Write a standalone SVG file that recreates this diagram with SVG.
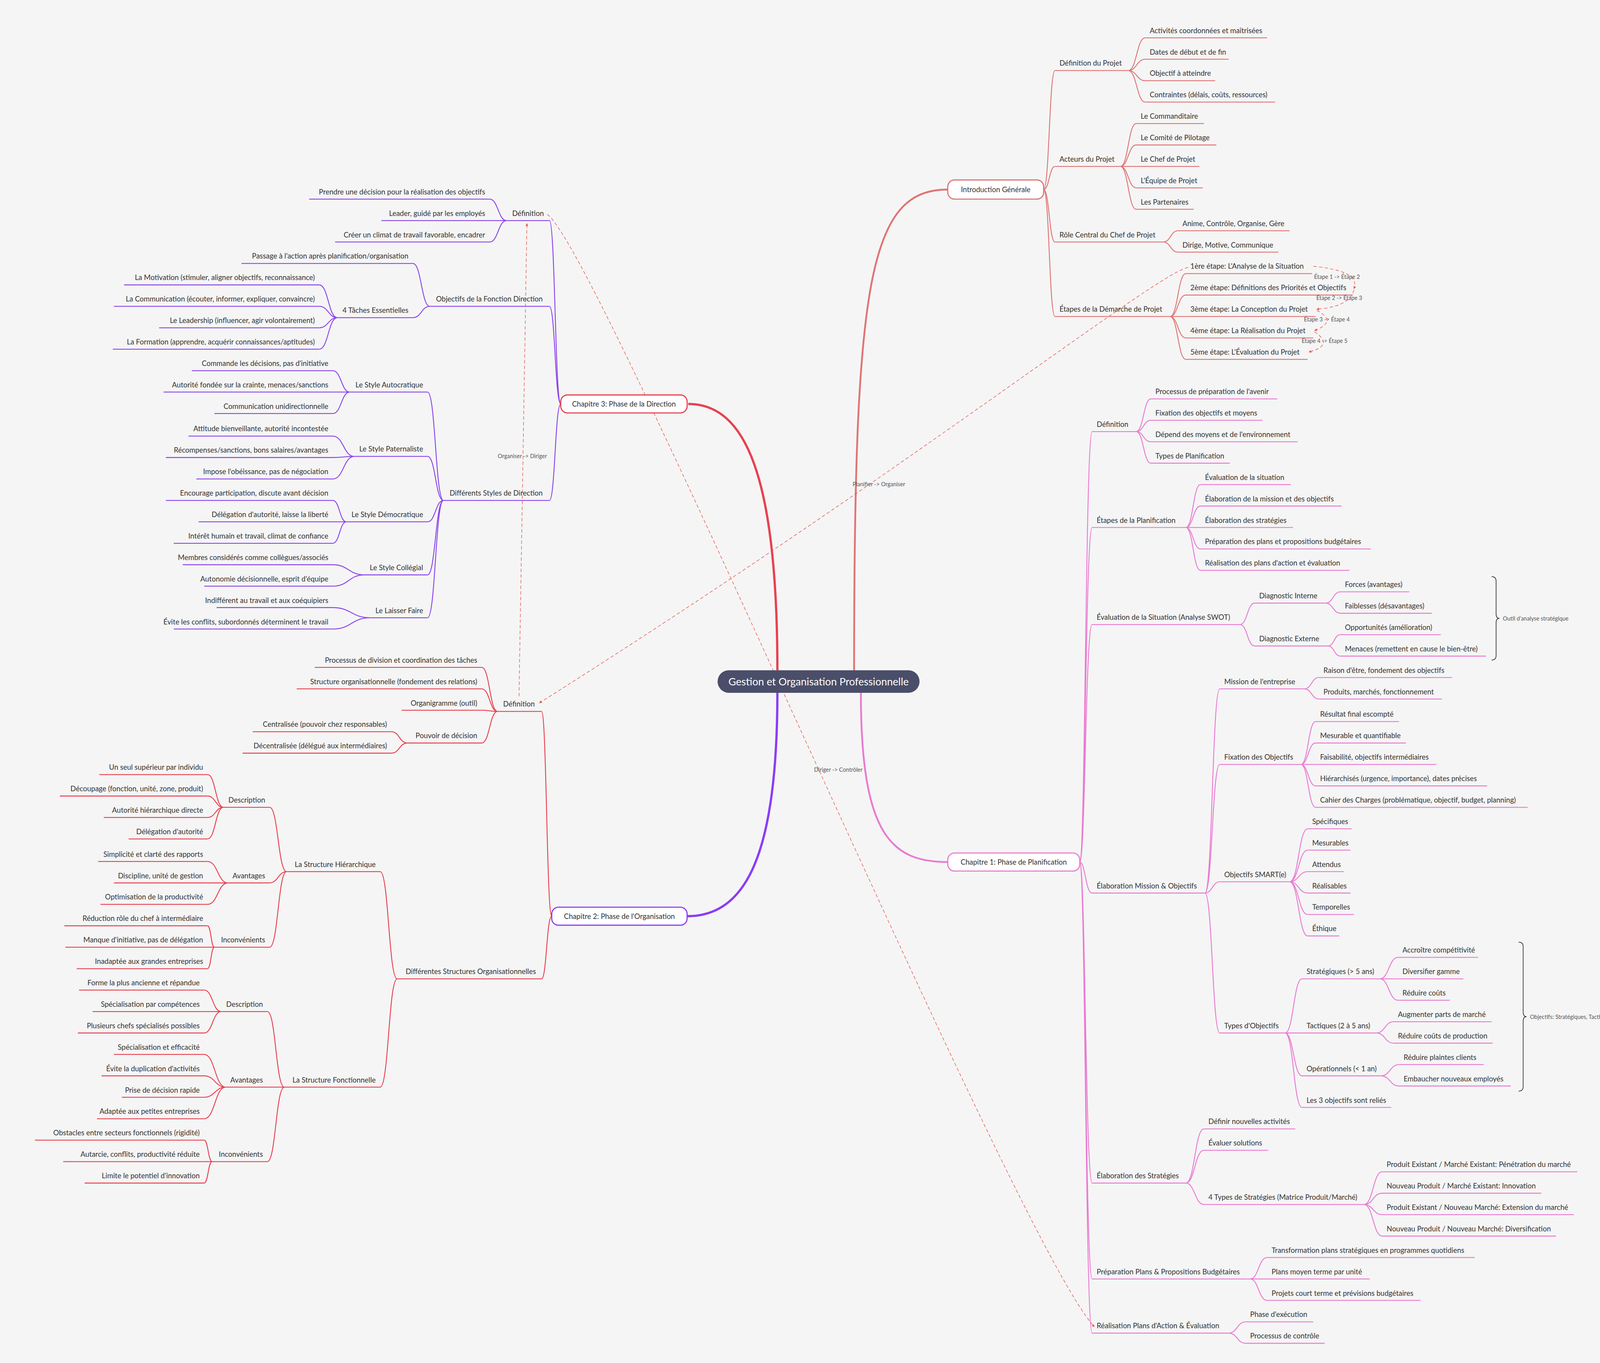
<svg xmlns="http://www.w3.org/2000/svg" width="4529" height="3490" viewBox="0 0 4529 3490">
<defs>
<style>
.t{font-family:Lato,"Noto Sans",sans-serif;font-size:6.4px;fill:#333}
.bx{font-family:Lato,"Noto Sans",sans-serif;font-size:6.4px;fill:#333;text-anchor:middle}
.e{text-anchor:end}
.lb{font-family:Lato,"Noto Sans",sans-serif;font-size:5px;fill:#555;text-anchor:middle}
.i{stroke:#e07474;stroke-width:0.8;fill:none}
.p{stroke:#ea7ad2;stroke-width:0.8;fill:none}
.v{stroke:#8b45ec;stroke-width:0.8;fill:none}
.r{stroke:#e8414f;stroke-width:0.8;fill:none}
.x{stroke:#e8594f;stroke-width:0.5;fill:none;stroke-dasharray:3 2}
.br{stroke:#333;stroke-width:0.6;fill:none}
</style>
<marker id="ah" viewBox="0 0 10 10" refX="9" refY="5" markerWidth="5" markerHeight="5" orient="auto"><path d="M0 0L10 5L0 10z" fill="#e8594f"/></marker>
</defs>
<rect width="4529" height="3490" fill="#f5f5f5"/>
<g transform="scale(2.8884 2.8891)">
<g id="connectors">
<path d="M689 594C689 420 660 358 610 358" stroke="#e8414f" stroke-width="2" fill="none"/>
<path d="M757 594C757 250 770 168 840 168" stroke="#e07474" stroke-width="1.6" fill="none"/>
<path d="M763 614C763 740 790 764 840 764" stroke="#ea7ad2" stroke-width="1.6" fill="none"/>
<path d="M689 614C689 760 660 812 609 812" stroke="#8b3cf7" stroke-width="2" fill="none"/>
<path class="i" d="M925 168C930 168 930 62.5 935 62.5M925 168C930 168 930 147.5 935 147.5M925 168C930 168 930 214.5 935 214.5M925 168C930 168 930 280.5 935 280.5"/>
<path class="i" d="M1000 62.5C1007.5 62.5 1007.5 33.5 1015 33.5M1000 62.5C1007.5 62.5 1007.5 52.5 1015 52.5M1000 62.5C1007.5 62.5 1007.5 71.5 1015 71.5M1000 62.5C1007.5 62.5 1007.5 90.5 1015 90.5"/>
<path class="i" d="M993 147.5C1000 147.5 1000 109.5 1007 109.5M993 147.5C1000 147.5 1000 128.5 1007 128.5M993 147.5C1000 147.5 1000 147.5 1007 147.5M993 147.5C1000 147.5 1000 166.5 1007 166.5M993 147.5C1000 147.5 1000 185.5 1007 185.5"/>
<path class="i" d="M1031 214.5C1037.5 214.5 1037.5 204.5 1044 204.5M1031 214.5C1037.5 214.5 1037.5 223.5 1044 223.5"/>
<path class="i" d="M1037 280.5C1044 280.5 1044 242.5 1051 242.5M1037 280.5C1044 280.5 1044 261.5 1051 261.5M1037 280.5C1044 280.5 1044 280.5 1051 280.5M1037 280.5C1044 280.5 1044 299.5 1051 299.5M1037 280.5C1044 280.5 1044 318.5 1051 318.5"/>
<path class="p" d="M957 764C962 764 962 382.5 968 382.5M957 764C962 764 962 467.5 968 467.5M957 764C962 764 962 553.5 968 553.5M957 764C962 764 962 791.5 968 791.5M957 764C962 764 962 1048.5 968 1048.5M957 764C962 764 962 1133.5 968 1133.5M957 764C962 764 962 1181.5 968 1181.5"/>
<path class="p" d="M1007 382.5C1013.5 382.5 1013.5 353.5 1020 353.5M1007 382.5C1013.5 382.5 1013.5 372.5 1020 372.5M1007 382.5C1013.5 382.5 1013.5 391.5 1020 391.5M1007 382.5C1013.5 382.5 1013.5 410.5 1020 410.5"/>
<path class="p" d="M1051 467.5C1057.5 467.5 1057.5 429.5 1064 429.5M1051 467.5C1057.5 467.5 1057.5 448.5 1064 448.5M1051 467.5C1057.5 467.5 1057.5 467.5 1064 467.5M1051 467.5C1057.5 467.5 1057.5 486.5 1064 486.5M1051 467.5C1057.5 467.5 1057.5 505.5 1064 505.5"/>
<path class="p" d="M1099 553.5C1105.5 553.5 1105.5 534.5 1112 534.5M1099 553.5C1105.5 553.5 1105.5 572.5 1112 572.5M1175 534.5C1181.5 534.5 1181.5 524.5 1188 524.5M1175 534.5C1181.5 534.5 1181.5 543.5 1188 543.5M1177 572.5C1182.5 572.5 1182.5 562.5 1188 562.5M1177 572.5C1182.5 572.5 1182.5 581.5 1188 581.5"/>
<path class="p" d="M1068 791.5C1074.5 791.5 1074.5 610.5 1081 610.5M1068 791.5C1074.5 791.5 1074.5 677.5 1081 677.5M1068 791.5C1074.5 791.5 1074.5 781.5 1081 781.5M1068 791.5C1074.5 791.5 1074.5 915.5 1081 915.5"/>
<path class="p" d="M1156 610.5C1162.5 610.5 1162.5 600.5 1169 600.5M1156 610.5C1162.5 610.5 1162.5 619.5 1169 619.5"/>
<path class="p" d="M1153 677.5C1159.5 677.5 1159.5 639.5 1166 639.5M1153 677.5C1159.5 677.5 1159.5 658.5 1166 658.5M1153 677.5C1159.5 677.5 1159.5 677.5 1166 677.5M1153 677.5C1159.5 677.5 1159.5 696.5 1166 696.5M1153 677.5C1159.5 677.5 1159.5 715.5 1166 715.5"/>
<path class="p" d="M1143 781.5C1151 781.5 1151 734.5 1159 734.5M1143 781.5C1151 781.5 1151 753.5 1159 753.5M1143 781.5C1151 781.5 1151 772.5 1159 772.5M1143 781.5C1151 781.5 1151 791.5 1159 791.5M1143 781.5C1151 781.5 1151 810.5 1159 810.5M1143 781.5C1151 781.5 1151 829.5 1159 829.5"/>
<path class="p" d="M1139 915.5C1146.5 915.5 1146.5 867.5 1154 867.5M1139 915.5C1146.5 915.5 1146.5 915.5 1154 915.5M1139 915.5C1146.5 915.5 1146.5 953.5 1154 953.5M1139 915.5C1146.5 915.5 1146.5 981.5 1154 981.5"/>
<path class="p" d="M1223 867.5C1231 867.5 1231 848.5 1239 848.5M1223 867.5C1231 867.5 1231 867.5 1239 867.5M1223 867.5C1231 867.5 1231 886.5 1239 886.5M1220 915.5C1227.5 915.5 1227.5 905.5 1235 905.5M1220 915.5C1227.5 915.5 1227.5 924.5 1235 924.5M1224 953.5C1232 953.5 1232 943.5 1240 943.5M1224 953.5C1232 953.5 1232 962.5 1240 962.5"/>
<path class="p" d="M1051 1048.5C1059 1048.5 1059 1000.5 1067 1000.5M1051 1048.5C1059 1048.5 1059 1019.5 1067 1019.5M1051 1048.5C1059 1048.5 1059 1067.5 1067 1067.5"/>
<path class="p" d="M1209 1067.5C1217 1067.5 1217 1038.5 1225 1038.5M1209 1067.5C1217 1067.5 1217 1057.5 1225 1057.5M1209 1067.5C1217 1067.5 1217 1076.5 1225 1076.5M1209 1067.5C1217 1067.5 1217 1095.5 1225 1095.5"/>
<path class="p" d="M1108 1133.5C1115.5 1133.5 1115.5 1114.5 1123 1114.5M1108 1133.5C1115.5 1133.5 1115.5 1133.5 1123 1133.5M1108 1133.5C1115.5 1133.5 1115.5 1152.5 1123 1152.5"/>
<path class="p" d="M1089 1181.5C1096.5 1181.5 1096.5 1171.5 1104 1171.5M1089 1181.5C1096.5 1181.5 1096.5 1190.5 1104 1190.5"/>
<path class="v" d="M497 358C492 358 492 195.5 487 195.5M497 358C492 358 492 271.5 487 271.5M497 358C492 358 492 443.5 487 443.5"/>
<path class="v" d="M449 195.5C441.5 195.5 441.5 176.5 434 176.5M449 195.5C441.5 195.5 441.5 195.5 434 195.5M449 195.5C441.5 195.5 441.5 214.5 434 214.5"/>
<path class="v" d="M381 271.5C373.5 271.5 373.5 233.5 366 233.5M381 271.5C373.5 271.5 373.5 281.5 366 281.5"/>
<path class="v" d="M299 281.5C291 281.5 291 252.5 283 252.5M299 281.5C291 281.5 291 271.5 283 271.5M299 281.5C291 281.5 291 290.5 283 290.5M299 281.5C291 281.5 291 309.5 283 309.5"/>
<path class="v" d="M393 443.5C386 443.5 386 347.5 379 347.5M393 443.5C386 443.5 386 404.5 379 404.5M393 443.5C386 443.5 386 462.5 379 462.5M393 443.5C386 443.5 386 509.5 379 509.5M393 443.5C386 443.5 386 547.5 379 547.5"/>
<path class="v" d="M310 347.5C302.5 347.5 302.5 328.5 295 328.5M310 347.5C302.5 347.5 302.5 347.5 295 347.5M310 347.5C302.5 347.5 302.5 366.5 295 366.5"/>
<path class="v" d="M314 404.5C304.5 404.5 304.5 386.5 295 386.5M314 404.5C304.5 404.5 304.5 405.5 295 405.5M314 404.5C304.5 404.5 304.5 424.5 295 424.5"/>
<path class="v" d="M307 462.5C301 462.5 301 443.5 295 443.5M307 462.5C301 462.5 301 462.5 295 462.5M307 462.5C301 462.5 301 481.5 295 481.5"/>
<path class="v" d="M323 509.5C309 509.5 309 500.5 295 500.5M323 509.5C309 509.5 309 519.5 295 519.5"/>
<path class="v" d="M328 547.5C311.5 547.5 311.5 538.5 295 538.5M328 547.5C311.5 547.5 311.5 557.5 295 557.5"/>
<path class="r" d="M489 812C484.5 812 484.5 630.5 480 630.5M489 812C484.5 812 484.5 867.5 480 867.5"/>
<path class="r" d="M441 630.5C434 630.5 434 591.5 427 591.5M441 630.5C434 630.5 434 610.5 427 610.5M441 630.5C434 630.5 434 629.5 427 629.5M441 630.5C434 630.5 434 658.5 427 658.5"/>
<path class="r" d="M361 658.5C354 658.5 354 648.5 347 648.5M361 658.5C354 658.5 354 667.5 347 667.5"/>
<path class="r" d="M352 867.5C344.5 867.5 344.5 772.5 337 772.5M352 867.5C344.5 867.5 344.5 963.5 337 963.5"/>
<path class="r" d="M254 772.5C246.5 772.5 246.5 715.5 239 715.5M254 772.5C246.5 772.5 246.5 782.5 239 782.5M254 772.5C246.5 772.5 246.5 839.5 239 839.5"/>
<path class="r" d="M198 715.5C191 715.5 191 686.5 184 686.5M198 715.5C191 715.5 191 705.5 184 705.5M198 715.5C191 715.5 191 724.5 184 724.5M198 715.5C191 715.5 191 743.5 184 743.5"/>
<path class="r" d="M202 782.5C193 782.5 193 763.5 184 763.5M202 782.5C193 782.5 193 782.5 184 782.5M202 782.5C193 782.5 193 801.5 184 801.5"/>
<path class="r" d="M190 839.5C187 839.5 187 820.5 184 820.5M190 839.5C187 839.5 187 839.5 184 839.5M190 839.5C187 839.5 187 858.5 184 858.5"/>
<path class="r" d="M252 963.5C244.5 963.5 244.5 896.5 237 896.5M252 963.5C244.5 963.5 244.5 963.5 237 963.5M252 963.5C244.5 963.5 244.5 1029.5 237 1029.5"/>
<path class="r" d="M196 896.5C188.5 896.5 188.5 877.5 181 877.5M196 896.5C188.5 896.5 188.5 896.5 181 896.5M196 896.5C188.5 896.5 188.5 915.5 181 915.5"/>
<path class="r" d="M200 963.5C190.5 963.5 190.5 934.5 181 934.5M200 963.5C190.5 963.5 190.5 953.5 181 953.5M200 963.5C190.5 963.5 190.5 972.5 181 972.5M200 963.5C190.5 963.5 190.5 991.5 181 991.5"/>
<path class="r" d="M188 1029.5C184.5 1029.5 184.5 1010.5 181 1010.5M188 1029.5C184.5 1029.5 184.5 1029.5 181 1029.5M188 1029.5C184.5 1029.5 184.5 1048.5 181 1048.5"/>
<path class="x" marker-end="url(#ah)" d="M1164 236Q1206 240 1200 256"/>
<path class="x" marker-end="url(#ah)" d="M1200 257Q1196 272 1167 274"/>
<path class="x" marker-end="url(#ah)" d="M1167 275Q1186 285 1165 293"/>
<path class="x" marker-end="url(#ah)" d="M1165 294Q1183 306 1160 312"/>
<path class="x" marker-end="url(#ah)" d="M1053 237C1025 242 800 420 478 623"/>
<path class="x" marker-end="url(#ah)" d="M460 617L467 198"/>
<path class="x" marker-end="url(#ah)" d="M485 190C530 220 900 1100 970 1176"/>
</g>
<g id="labels">
<text class="lb" x="1185" y="247">Étape 1 -&gt; Étape 2</text>
<text class="lb" x="1187" y="266">Étape 2 -&gt; Étape 3</text>
<text class="lb" x="1176" y="285">Étape 3 -&gt; Étape 4</text>
<text class="lb" x="1174" y="304">Étape 4 -&gt; Étape 5</text>
<text class="lb" x="779" y="431">Planifier -&gt; Organiser</text>
<text class="lb" x="463" y="406">Organiser -&gt; Diriger</text>
<text class="lb" x="743" y="684">Diriger -&gt; Contrôler</text>
</g>
<g id="center"><rect x="636" y="594" width="179" height="20" rx="10" fill="#4a4e69"/><text x="725.5" y="607.3" text-anchor="middle" style="font-family:Lato,'Noto Sans',sans-serif;font-size:9.2px;fill:#fff">Gestion et Organisation Professionnelle</text></g>
<g id="intro"><rect x="840" y="159.5" width="85" height="17" rx="6" fill="#fff" stroke="#e07474" stroke-width="1"/><text class="bx" x="882.5" y="170.3">Introduction Générale</text></g>
<g id="chap3"><rect x="497" y="350" width="112" height="16" rx="6" fill="#fff" stroke="#e8414f" stroke-width="1"/><text class="bx" x="553" y="360.3">Chapitre 3: Phase de la Direction</text></g>
<g id="chap1"><rect x="840" y="756" width="117" height="16" rx="6" fill="#fff" stroke="#ea7ad2" stroke-width="1"/><text class="bx" x="898.5" y="766.3">Chapitre 1: Phase de Planification</text></g>
<g id="chap2"><rect x="489" y="804" width="120" height="16" rx="6" fill="#fff" stroke="#8b3cf7" stroke-width="1"/><text class="bx" x="549" y="814.3">Chapitre 2: Phase de l'Organisation</text></g>

<g id="intro-nodes">
<g id="i1"><text class="t" x="939" y="58.3">Définition du Projet</text><path class="i" d="M935 62.5H1000"/></g>
<g id="i1a"><text class="t" x="1019" y="29.3">Activités coordonnées et maîtrisées</text><path class="i" d="M1015 33.5H1123"/></g>
<g id="i1b"><text class="t" x="1019" y="48.3">Dates de début et de fin</text><path class="i" d="M1015 52.5H1089"/></g>
<g id="i1c"><text class="t" x="1019" y="67.3">Objectif à atteindre</text><path class="i" d="M1015 71.5H1077"/></g>
<g id="i1d"><text class="t" x="1019" y="86.3">Contraintes (délais, coûts, ressources)</text><path class="i" d="M1015 90.5H1130"/></g>
<g id="i2"><text class="t" x="939" y="143.3">Acteurs du Projet</text><path class="i" d="M935 147.5H993"/></g>
<g id="i2a"><text class="t" x="1011" y="105.3">Le Commanditaire</text><path class="i" d="M1007 109.5H1067"/></g>
<g id="i2b"><text class="t" x="1011" y="124.3">Le Comité de Pilotage</text><path class="i" d="M1007 128.5H1078"/></g>
<g id="i2c"><text class="t" x="1011" y="143.3">Le Chef de Projet</text><path class="i" d="M1007 147.5H1063"/></g>
<g id="i2d"><text class="t" x="1011" y="162.3">L'Équipe de Projet</text><path class="i" d="M1007 166.5H1066"/></g>
<g id="i2e"><text class="t" x="1011" y="181.3">Les Partenaires</text><path class="i" d="M1007 185.5H1058"/></g>
<g id="i3"><text class="t" x="939" y="210.3">Rôle Central du Chef de Projet</text><path class="i" d="M935 214.5H1031"/></g>
<g id="i3a"><text class="t" x="1048" y="200.3">Anime, Contrôle, Organise, Gère</text><path class="i" d="M1044 204.5H1143"/></g>
<g id="i3b"><text class="t" x="1048" y="219.3">Dirige, Motive, Communique</text><path class="i" d="M1044 223.5H1133"/></g>
<g id="i4"><text class="t" x="939" y="276.3">Étapes de la Démarche de Projet</text><path class="i" d="M935 280.5H1037"/></g>
<g id="i4a"><text class="t" x="1055" y="238.3">1ère étape: L'Analyse de la Situation</text><path class="i" d="M1051 242.5H1163"/></g>
<g id="i4b"><text class="t" x="1055" y="257.3">2ème étape: Définitions des Priorités et Objectifs</text><path class="i" d="M1051 261.5H1199"/></g>
<g id="i4c"><text class="t" x="1055" y="276.3">3ème étape: La Conception du Projet</text><path class="i" d="M1051 280.5H1166"/></g>
<g id="i4d"><text class="t" x="1055" y="295.3">4ème étape: La Réalisation du Projet</text><path class="i" d="M1051 299.5H1164"/></g>
<g id="i4e"><text class="t" x="1055" y="314.3">5ème étape: L'Évaluation du Projet</text><path class="i" d="M1051 318.5H1159"/></g>
</g>

<g id="chap1-nodes">
<g id="p1"><text class="t" x="972" y="378.3">Définition</text><path class="p" d="M968 382.5H1007"/></g>
<g id="p1a"><text class="t" x="1024" y="349.3">Processus de préparation de l'avenir</text><path class="p" d="M1020 353.5H1132"/></g>
<g id="p1b"><text class="t" x="1024" y="368.3">Fixation des objectifs et moyens</text><path class="p" d="M1020 372.5H1119"/></g>
<g id="p1c"><text class="t" x="1024" y="387.3">Dépend des moyens et de l'environnement</text><path class="p" d="M1020 391.5H1150"/></g>
<g id="p1d"><text class="t" x="1024" y="406.3">Types de Planification</text><path class="p" d="M1020 410.5H1090"/></g>
<g id="p2"><text class="t" x="972" y="463.3">Étapes de la Planification</text><path class="p" d="M968 467.5H1051"/></g>
<g id="p2a"><text class="t" x="1068" y="425.3">Évaluation de la situation</text><path class="p" d="M1064 429.5H1144"/></g>
<g id="p2b"><text class="t" x="1068" y="444.3">Élaboration de la mission et des objectifs</text><path class="p" d="M1064 448.5H1189"/></g>
<g id="p2c"><text class="t" x="1068" y="463.3">Élaboration des stratégies</text><path class="p" d="M1064 467.5H1146"/></g>
<g id="p2d"><text class="t" x="1068" y="482.3">Préparation des plans et propositions budgétaires</text><path class="p" d="M1064 486.5H1215"/></g>
<g id="p2e"><text class="t" x="1068" y="501.3">Réalisation des plans d'action et évaluation</text><path class="p" d="M1064 505.5H1196"/></g>
<g id="p3"><text class="t" x="972" y="549.3">Évaluation de la Situation (Analyse SWOT)</text><path class="p" d="M968 553.5H1099"/></g>
<g id="p3a"><text class="t" x="1116" y="530.3">Diagnostic Interne</text><path class="p" d="M1112 534.5H1175"/></g>
<g id="p3a1"><text class="t" x="1192" y="520.3">Forces (avantages)</text><path class="p" d="M1188 524.5H1249"/></g>
<g id="p3a2"><text class="t" x="1192" y="539.3">Faiblesses (désavantages)</text><path class="p" d="M1188 543.5H1269"/></g>
<g id="p3b"><text class="t" x="1116" y="568.3">Diagnostic Externe</text><path class="p" d="M1112 572.5H1177"/></g>
<g id="p3b1"><text class="t" x="1192" y="558.3">Opportunités (amélioration)</text><path class="p" d="M1188 562.5H1277"/></g>
<g id="p3b2"><text class="t" x="1192" y="577.3">Menaces (remettent en cause le bien-être)</text><path class="p" d="M1188 581.5H1317"/></g>
<g id="swot-note"><path class="br" d="M1322 511Q1326 511 1326 515V544Q1326 548 1329 548Q1326 548 1326 552V581Q1326 585 1322 585"/><text class="lb" x="1332" y="550" style="text-anchor:start">Outil d'analyse stratégique</text></g>
<g id="p4"><text class="t" x="972" y="787.3">Élaboration Mission &amp; Objectifs</text><path class="p" d="M968 791.5H1068"/></g>
<g id="p4a"><text class="t" x="1085" y="606.3">Mission de l'entreprise</text><path class="p" d="M1081 610.5H1156"/></g>
<g id="p4a1"><text class="t" x="1173" y="596.3">Raison d'être, fondement des objectifs</text><path class="p" d="M1169 600.5H1287"/></g>
<g id="p4a2"><text class="t" x="1173" y="615.3">Produits, marchés, fonctionnement</text><path class="p" d="M1169 619.5H1278"/></g>
<g id="p4b"><text class="t" x="1085" y="673.3">Fixation des Objectifs</text><path class="p" d="M1081 677.5H1153"/></g>
<g id="p4b1"><text class="t" x="1170" y="635.3">Résultat final escompté</text><path class="p" d="M1166 639.5H1240"/></g>
<g id="p4b2"><text class="t" x="1170" y="654.3">Mesurable et quantifiable</text><path class="p" d="M1166 658.5H1246"/></g>
<g id="p4b3"><text class="t" x="1170" y="673.3">Faisabilité, objectifs intermédiaires</text><path class="p" d="M1166 677.5H1273"/></g>
<g id="p4b4"><text class="t" x="1170" y="692.3">Hiérarchisés (urgence, importance), dates précises</text><path class="p" d="M1166 696.5H1318"/></g>
<g id="p4b5"><text class="t" x="1170" y="711.3">Cahier des Charges (problématique, objectif, budget, planning)</text><path class="p" d="M1166 715.5H1354"/></g>
<g id="p4c"><text class="t" x="1085" y="777.3">Objectifs SMART(e)</text><path class="p" d="M1081 781.5H1143"/></g>
<g id="p4c1"><text class="t" x="1163" y="730.3">Spécifiques</text><path class="p" d="M1159 734.5H1198"/></g>
<g id="p4c2"><text class="t" x="1163" y="749.3">Mesurables</text><path class="p" d="M1159 753.5H1197"/></g>
<g id="p4c3"><text class="t" x="1163" y="768.3">Attendus</text><path class="p" d="M1159 772.5H1191"/></g>
<g id="p4c4"><text class="t" x="1163" y="787.3">Réalisables</text><path class="p" d="M1159 791.5H1197"/></g>
<g id="p4c5"><text class="t" x="1163" y="806.3">Temporelles</text><path class="p" d="M1159 810.5H1200"/></g>
<g id="p4c6"><text class="t" x="1163" y="825.3">Éthique</text><path class="p" d="M1159 829.5H1187"/></g>
<g id="p4d"><text class="t" x="1085" y="911.3">Types d'Objectifs</text><path class="p" d="M1081 915.5H1139"/></g>
<g id="p4d1"><text class="t" x="1158" y="863.3">Stratégiques (&gt; 5 ans)</text><path class="p" d="M1154 867.5H1223"/></g>
<g id="p4d1a"><text class="t" x="1243" y="844.3">Accroître compétitivité</text><path class="p" d="M1239 848.5H1310"/></g>
<g id="p4d1b"><text class="t" x="1243" y="863.3">Diversifier gamme</text><path class="p" d="M1239 867.5H1297"/></g>
<g id="p4d1c"><text class="t" x="1243" y="882.3">Réduire coûts</text><path class="p" d="M1239 886.5H1285"/></g>
<g id="p4d2"><text class="t" x="1158" y="911.3">Tactiques (2 à 5 ans)</text><path class="p" d="M1154 915.5H1220"/></g>
<g id="p4d2a"><text class="t" x="1239" y="901.3">Augmenter parts de marché</text><path class="p" d="M1235 905.5H1322"/></g>
<g id="p4d2b"><text class="t" x="1239" y="920.3">Réduire coûts de production</text><path class="p" d="M1235 924.5H1323"/></g>
<g id="p4d3"><text class="t" x="1158" y="949.3">Opérationnels (&lt; 1 an)</text><path class="p" d="M1154 953.5H1224"/></g>
<g id="p4d3a"><text class="t" x="1244" y="939.3">Réduire plaintes clients</text><path class="p" d="M1240 943.5H1315"/></g>
<g id="p4d3b"><text class="t" x="1244" y="958.3">Embaucher nouveaux employés</text><path class="p" d="M1240 962.5H1339"/></g>
<g id="p4d4"><text class="t" x="1158" y="977.3">Les 3 objectifs sont reliés</text><path class="p" d="M1154 981.5H1233"/></g>
<g id="obj-note"><path class="br" d="M1346 835Q1350 835 1350 839V897Q1350 901 1353 901Q1350 901 1350 905V963Q1350 967 1346 967"/><text class="lb" x="1356" y="903" style="text-anchor:start">Objectifs: Stratégiques, Tactiques, Opérationnels</text></g>
<g id="p5"><text class="t" x="972" y="1044.3">Élaboration des Stratégies</text><path class="p" d="M968 1048.5H1051"/></g>
<g id="p5a"><text class="t" x="1071" y="996.3">Définir nouvelles activités</text><path class="p" d="M1067 1000.5H1148"/></g>
<g id="p5b"><text class="t" x="1071" y="1015.3">Évaluer solutions</text><path class="p" d="M1067 1019.5H1124"/></g>
<g id="p5c"><text class="t" x="1071" y="1063.3">4 Types de Stratégies (Matrice Produit/Marché)</text><path class="p" d="M1067 1067.5H1209"/></g>
<g id="p5c1"><text class="t" x="1229" y="1034.3">Produit Existant / Marché Existant: Pénétration du marché</text><path class="p" d="M1225 1038.5H1398"/></g>
<g id="p5c2"><text class="t" x="1229" y="1053.3">Nouveau Produit / Marché Existant: Innovation</text><path class="p" d="M1225 1057.5H1366"/></g>
<g id="p5c3"><text class="t" x="1229" y="1072.3">Produit Existant / Nouveau Marché: Extension du marché</text><path class="p" d="M1225 1076.5H1395"/></g>
<g id="p5c4"><text class="t" x="1229" y="1091.3">Nouveau Produit / Nouveau Marché: Diversification</text><path class="p" d="M1225 1095.5H1379"/></g>
<g id="p6"><text class="t" x="972" y="1129.3">Préparation Plans &amp; Propositions Budgétaires</text><path class="p" d="M968 1133.5H1108"/></g>
<g id="p6a"><text class="t" x="1127" y="1110.3">Transformation plans stratégiques en programmes quotidiens</text><path class="p" d="M1123 1114.5H1307"/></g>
<g id="p6b"><text class="t" x="1127" y="1129.3">Plans moyen terme par unité</text><path class="p" d="M1123 1133.5H1214"/></g>
<g id="p6c"><text class="t" x="1127" y="1148.3">Projets court terme et prévisions budgétaires</text><path class="p" d="M1123 1152.5H1259"/></g>
<g id="p7"><text class="t" x="972" y="1177.3">Réalisation Plans d'Action &amp; Évaluation</text><path class="p" d="M968 1181.5H1089"/></g>
<g id="p7a"><text class="t" x="1108" y="1167.3">Phase d'exécution</text><path class="p" d="M1104 1171.5H1164"/></g>
<g id="p7b"><text class="t" x="1108" y="1186.3">Processus de contrôle</text><path class="p" d="M1104 1190.5H1174"/></g>
</g>

<g id="chap3-nodes">
<g id="v1"><text class="t e" x="482" y="191.3">Définition</text><path class="v" d="M449 195.5H487"/></g>
<g id="v1a"><text class="t e" x="430" y="172.3">Prendre une décision pour la réalisation des objectifs</text><path class="v" d="M274 176.5H434"/></g>
<g id="v1b"><text class="t e" x="430" y="191.3">Leader, guidé par les employés</text><path class="v" d="M338 195.5H434"/></g>
<g id="v1c"><text class="t e" x="430" y="210.3">Créer un climat de travail favorable, encadrer</text><path class="v" d="M297 214.5H434"/></g>
<g id="v2"><text class="t e" x="481" y="267.3">Objectifs de la Fonction Direction</text><path class="v" d="M381 271.5H487"/></g>
<g id="v2a"><text class="t e" x="362" y="229.3">Passage à l'action après planification/organisation</text><path class="v" d="M214 233.5H366"/></g>
<g id="v2b"><text class="t e" x="362" y="277.3">4 Tâches Essentielles</text><path class="v" d="M299 281.5H366"/></g>
<g id="v2b1"><text class="t e" x="279" y="248.3">La Motivation (stimuler, aligner objectifs, reconnaissance)</text><path class="v" d="M110 252.5H283"/></g>
<g id="v2b2"><text class="t e" x="279" y="267.3">La Communication (écouter, informer, expliquer, convaincre)</text><path class="v" d="M101 271.5H283"/></g>
<g id="v2b3"><text class="t e" x="279" y="286.3">Le Leadership (influencer, agir volontairement)</text><path class="v" d="M141 290.5H283"/></g>
<g id="v2b4"><text class="t e" x="279" y="305.3">La Formation (apprendre, acquérir connaissances/aptitudes)</text><path class="v" d="M100 309.5H283"/></g>
<g id="v3"><text class="t e" x="481" y="439.3">Différents Styles de Direction</text><path class="v" d="M393 443.5H487"/></g>
<g id="v3a"><text class="t e" x="375" y="343.3">Le Style Autocratique</text><path class="v" d="M310 347.5H379"/></g>
<g id="v3a1"><text class="t e" x="291" y="324.3">Commande les décisions, pas d'initiative</text><path class="v" d="M170 328.5H295"/></g>
<g id="v3a2"><text class="t e" x="291" y="343.3">Autorité fondée sur la crainte, menaces/sanctions</text><path class="v" d="M145 347.5H295"/></g>
<g id="v3a3"><text class="t e" x="291" y="362.3">Communication unidirectionnelle</text><path class="v" d="M190 366.5H295"/></g>
<g id="v3b"><text class="t e" x="375" y="400.3">Le Style Paternaliste</text><path class="v" d="M314 404.5H379"/></g>
<g id="v3b1"><text class="t e" x="291" y="382.3">Attitude bienveillante, autorité incontestée</text><path class="v" d="M167 386.5H295"/></g>
<g id="v3b2"><text class="t e" x="291" y="401.3">Récompenses/sanctions, bons salaires/avantages</text><path class="v" d="M147 405.5H295"/></g>
<g id="v3b3"><text class="t e" x="291" y="420.3">Impose l'obéissance, pas de négociation</text><path class="v" d="M174 424.5H295"/></g>
<g id="v3c"><text class="t e" x="375" y="458.3">Le Style Démocratique</text><path class="v" d="M307 462.5H379"/></g>
<g id="v3c1"><text class="t e" x="291" y="439.3">Encourage participation, discute avant décision</text><path class="v" d="M147 443.5H295"/></g>
<g id="v3c2"><text class="t e" x="291" y="458.3">Délégation d'autorité, laisse la liberté</text><path class="v" d="M176 462.5H295"/></g>
<g id="v3c3"><text class="t e" x="291" y="477.3">Intérêt humain et travail, climat de confiance</text><path class="v" d="M154 481.5H295"/></g>
<g id="v3d"><text class="t e" x="375" y="505.3">Le Style Collégial</text><path class="v" d="M323 509.5H379"/></g>
<g id="v3d1"><text class="t e" x="291" y="496.3">Membres considérés comme collègues/associés</text><path class="v" d="M162 500.5H295"/></g>
<g id="v3d2"><text class="t e" x="291" y="515.3">Autonomie décisionnelle, esprit d'équipe</text><path class="v" d="M181 519.5H295"/></g>
<g id="v3e"><text class="t e" x="375" y="543.3">Le Laisser Faire</text><path class="v" d="M328 547.5H379"/></g>
<g id="v3e1"><text class="t e" x="291" y="534.3">Indifférent au travail et aux coéquipiers</text><path class="v" d="M192 538.5H295"/></g>
<g id="v3e2"><text class="t e" x="291" y="553.3">Évite les conflits, subordonnés déterminent le travail</text><path class="v" d="M154 557.5H295"/></g>
</g>

<g id="chap2-nodes">
<g id="r1"><text class="t e" x="474" y="626.3">Définition</text><path class="r" d="M441 630.5H480"/></g>
<g id="r1a"><text class="t e" x="423" y="587.3">Processus de division et coordination des tâches</text><path class="r" d="M279 591.5H427"/></g>
<g id="r1b"><text class="t e" x="423" y="606.3">Structure organisationnelle (fondement des relations)</text><path class="r" d="M263 610.5H427"/></g>
<g id="r1c"><text class="t e" x="423" y="625.3">Organigramme (outil)</text><path class="r" d="M356 629.5H427"/></g>
<g id="r1d"><text class="t e" x="423" y="654.3">Pouvoir de décision</text><path class="r" d="M361 658.5H427"/></g>
<g id="r1d1"><text class="t e" x="343" y="644.3">Centralisée (pouvoir chez responsables)</text><path class="r" d="M224 648.5H347"/></g>
<g id="r1d2"><text class="t e" x="343" y="663.3">Décentralisée (délégué aux intermédiaires)</text><path class="r" d="M215 667.5H347"/></g>
<g id="r2"><text class="t e" x="475" y="863.3">Différentes Structures Organisationnelles</text><path class="r" d="M352 867.5H480"/></g>
<g id="r2a"><text class="t e" x="333" y="768.3">La Structure Hiérarchique</text><path class="r" d="M254 772.5H337"/></g>
<g id="r2a1"><text class="t e" x="235" y="711.3">Description</text><path class="r" d="M198 715.5H239"/></g>
<g id="r2a1a"><text class="t e" x="180" y="682.3">Un seul supérieur par individu</text><path class="r" d="M88 686.5H184"/></g>
<g id="r2a1b"><text class="t e" x="180" y="701.3">Découpage (fonction, unité, zone, produit)</text><path class="r" d="M53 705.5H184"/></g>
<g id="r2a1c"><text class="t e" x="180" y="720.3">Autorité hiérarchique directe</text><path class="r" d="M92 724.5H184"/></g>
<g id="r2a1d"><text class="t e" x="180" y="739.3">Délégation d'autorité</text><path class="r" d="M114 743.5H184"/></g>
<g id="r2a2"><text class="t e" x="235" y="778.3">Avantages</text><path class="r" d="M202 782.5H239"/></g>
<g id="r2a2a"><text class="t e" x="180" y="759.3">Simplicité et clarté des rapports</text><path class="r" d="M87 763.5H184"/></g>
<g id="r2a2b"><text class="t e" x="180" y="778.3">Discipline, unité de gestion</text><path class="r" d="M101 782.5H184"/></g>
<g id="r2a2c"><text class="t e" x="180" y="797.3">Optimisation de la productivité</text><path class="r" d="M89 801.5H184"/></g>
<g id="r2a3"><text class="t e" x="235" y="835.3">Inconvénients</text><path class="r" d="M190 839.5H239"/></g>
<g id="r2a3a"><text class="t e" x="180" y="816.3">Réduction rôle du chef à intermédiaire</text><path class="r" d="M57 820.5H184"/></g>
<g id="r2a3b"><text class="t e" x="180" y="835.3">Manque d'initiative, pas de délégation</text><path class="r" d="M58 839.5H184"/></g>
<g id="r2a3c"><text class="t e" x="180" y="854.3">Inadaptée aux grandes entreprises</text><path class="r" d="M68 858.5H184"/></g>
<g id="r2b"><text class="t e" x="333" y="959.3">La Structure Fonctionnelle</text><path class="r" d="M252 963.5H337"/></g>
<g id="r2b1"><text class="t e" x="233" y="892.3">Description</text><path class="r" d="M196 896.5H237"/></g>
<g id="r2b1a"><text class="t e" x="177" y="873.3">Forme la plus ancienne et répandue</text><path class="r" d="M70 877.5H181"/></g>
<g id="r2b1b"><text class="t e" x="177" y="892.3">Spécialisation par compétences</text><path class="r" d="M82 896.5H181"/></g>
<g id="r2b1c"><text class="t e" x="177" y="911.3">Plusieurs chefs spécialisés possibles</text><path class="r" d="M69 915.5H181"/></g>
<g id="r2b2"><text class="t e" x="233" y="959.3">Avantages</text><path class="r" d="M200 963.5H237"/></g>
<g id="r2b2a"><text class="t e" x="177" y="930.3">Spécialisation et efficacité</text><path class="r" d="M101 934.5H181"/></g>
<g id="r2b2b"><text class="t e" x="177" y="949.3">Évite la duplication d'activités</text><path class="r" d="M90 953.5H181"/></g>
<g id="r2b2c"><text class="t e" x="177" y="968.3">Prise de décision rapide</text><path class="r" d="M108 972.5H181"/></g>
<g id="r2b2d"><text class="t e" x="177" y="987.3">Adaptée aux petites entreprises</text><path class="r" d="M86 991.5H181"/></g>
<g id="r2b3"><text class="t e" x="233" y="1025.3">Inconvénients</text><path class="r" d="M188 1029.5H237"/></g>
<g id="r2b3a"><text class="t e" x="177" y="1006.3">Obstacles entre secteurs fonctionnels (rigidité)</text><path class="r" d="M31 1010.5H181"/></g>
<g id="r2b3b"><text class="t e" x="177" y="1025.3">Autarcie, conflits, productivité réduite</text><path class="r" d="M56 1029.5H181"/></g>
<g id="r2b3c"><text class="t e" x="177" y="1044.3">Limite le potentiel d'innovation</text><path class="r" d="M75 1048.5H181"/></g>
</g>
</g>
</svg>
